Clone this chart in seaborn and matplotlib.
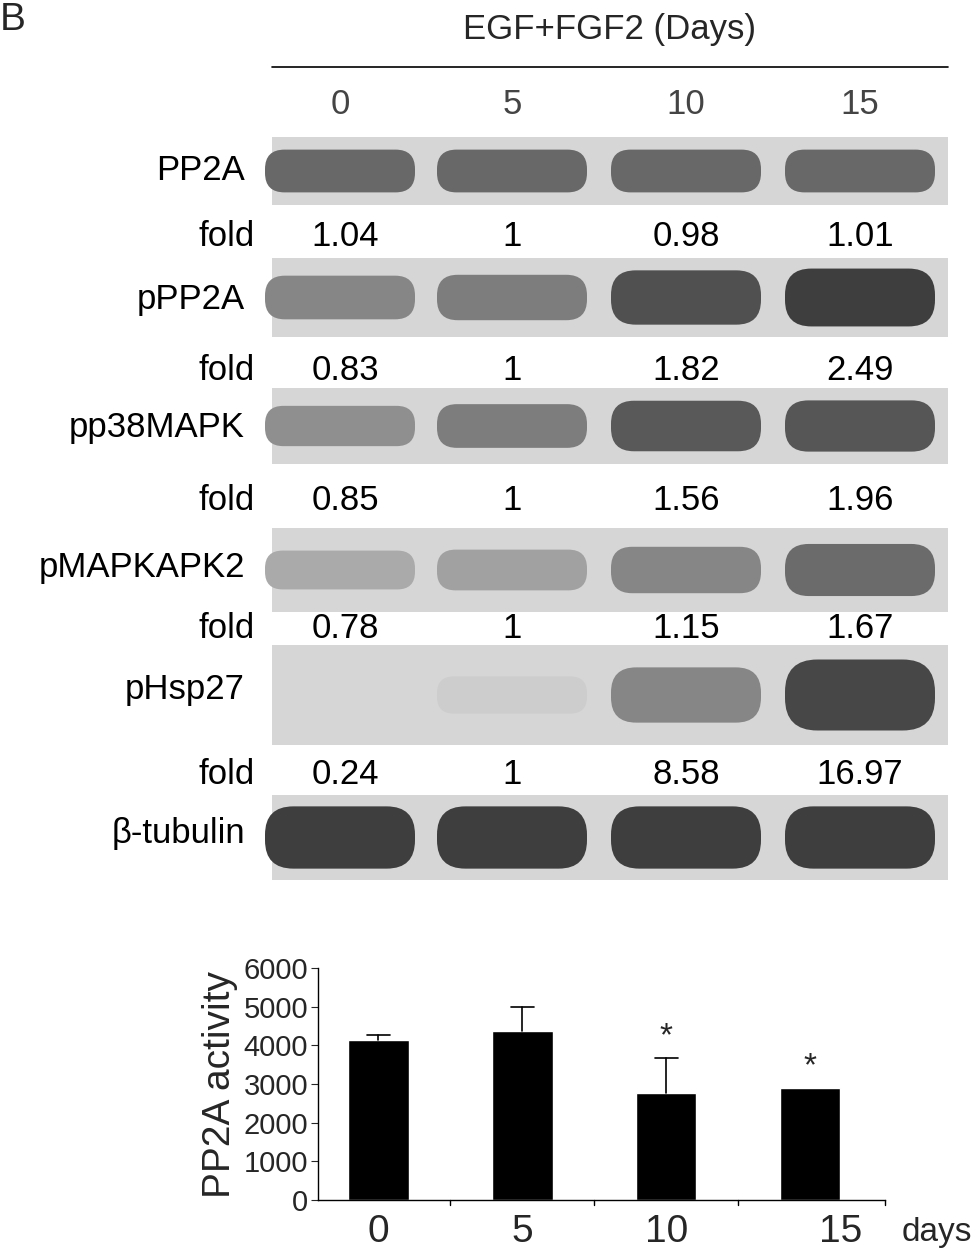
import matplotlib
matplotlib.use("Agg")
import matplotlib.pyplot as plt
from matplotlib.patches import FancyBboxPatch, Rectangle
import matplotlib.transforms as mt
import numpy as np
import pandas as pd
import seaborn as sns

sns.set_style("white")
plt.rcParams['font.family'] = ['Liberation Sans', 'DejaVu Sans']

days = ["0", "5", "10", "15"]
proteins = ["PP2A", "pPP2A", "pp38MAPK", "pMAPKAPK2", "pHsp27", "β-tubulin"]
folds = {
    "PP2A": ["1.04", "1", "0.98", "1.01"],
    "pPP2A": ["0.83", "1", "1.82", "2.49"],
    "pp38MAPK": ["0.85", "1", "1.56", "1.96"],
    "pMAPKAPK2": ["0.78", "1", "1.15", "1.67"],
    "pHsp27": ["0.24", "1", "8.58", "16.97"],
}
# band darkness (0 = none, 1 = black), estimated
band_dark = {
    "PP2A": [0.62, 0.62, 0.62, 0.62],
    "pPP2A": [0.45, 0.5, 0.75, 0.85],
    "pp38MAPK": [0.4, 0.5, 0.7, 0.72],
    "pMAPKAPK2": [0.25, 0.3, 0.45, 0.6],
    "pHsp27": [0.02, 0.05, 0.45, 0.8],
    "β-tubulin": [0.85, 0.85, 0.85, 0.85],
}
activity = [4130, 4380, 2770, 2900]
activity_err = [150, 620, 900, 0]
significant = [False, False, True, True]

W, H = 979, 1256
fig = plt.figure(figsize=(W / 100, H / 100), dpi=100)
ax = fig.add_axes([0, 0, 1, 1])
ax.set_xlim(0, W); ax.set_ylim(H, 0); ax.axis("off")

lane_x = [340, 512, 686, 860]
strip_l, strip_r = 272, 948
rows = [  # (strip top, strip bottom, fold text y, label y)
    (137, 205, 237, 170),
    (258, 337, 370, 300),
    (388, 464, 500, 428),
    (528, 612, 628, 568),
    (645, 745, 775, 690),
    (795, 880, None, 833),
]
fs = 25
ax.text(0, 20, "B", fontsize=28, va="center")
ax.text(610, 30, "EGF+FGF2 (Days)", fontsize=fs, ha="center", va="center")
ax.plot([strip_l, strip_r], [67, 67], color="black", lw=1.2)
for x, d in zip(lane_x, days):
    ax.text(x, 105, d, fontsize=fs, ha="center", va="center", color="#444444")

for p, (t, b, fy, ly) in zip(proteins, rows):
    ax.add_patch(Rectangle((strip_l, t), strip_r - strip_l, b - t, color="#d6d6d6", lw=0))
    ax.text(245, ly, p, fontsize=fs, ha="right", va="center", color="black")
    mid = (t + b) / 2
    for x, dk in zip(lane_x, band_dark[p]):
        if dk <= 0.03:
            continue
        h = (b - t) * (0.35 + 0.45 * dk)
        g = 0.84 - 0.7 * dk
        ax.add_patch(FancyBboxPatch((x - 75, mid - h / 2), 150, h,
                                    boxstyle="round,pad=0,rounding_size=%f" % (h / 2.2),
                                    color=(g, g, g), lw=0))
    if fy is not None:
        ax.text(255, fy, "fold", fontsize=fs, ha="right", va="center", color="black")
        for x, f in zip(lane_x, folds[p]):
            ax.text(x + 5 if x < 400 else x, fy, f, fontsize=fs, ha="center", va="center",
                    color="black")

# bar chart
bx = fig.add_axes([318 / W, 1 - 1200 / H, (885 - 318) / W, (1200 - 968) / H])
df = pd.DataFrame({"day": days, "activity": activity})
sns.barplot(data=df, x="day", y="activity", color="black", width=0.42,
            saturation=1, ax=bx, errorbar=None)
for i, (v, e) in enumerate(zip(activity, activity_err)):
    if e > 0:
        bx.plot([i, i], [v, v + e], color="black", lw=1.2)
        bx.plot([i - 0.08, i + 0.08], [v + e, v + e], color="black", lw=1.2)
    if significant[i]:
        bx.text(i, v + e + 150, "*", fontsize=24, ha="center", va="bottom")
bx.set_ylim(0, 6000)
bx.set_xlim(-0.42, 3.52)
bx.set_yticks(range(0, 6001, 1000))
bx.set_xticks([0, 1, 2, 3])
bx.set_xticklabels(days)
bx.tick_params(axis="y", labelsize=21, length=5, direction="out", left=True, pad=2)
bx.tick_params(axis="x", labelsize=28, length=0, pad=10)
labs = bx.get_xticklabels()
labs[3].set_transform(labs[3].get_transform() + mt.ScaledTranslation(0.3, 0, fig.dpi_scale_trans))
bx.set_xlabel(""); bx.set_ylabel("PP2A activity", fontsize=28, labelpad=4)
for s in ["top", "right"]:
    bx.spines[s].set_visible(False)
for s in ["left", "bottom"]:
    bx.spines[s].set_color("black"); bx.spines[s].set_linewidth(1.0)
for xb in [0.5, 1.5, 2.5, 3.52]:
    bx.plot([xb, xb], [0, -120], color="black", lw=1, clip_on=False)
ax.text(902, 1232, "days", fontsize=24, ha="left", va="center")

fig.savefig("out.png", dpi=100)
